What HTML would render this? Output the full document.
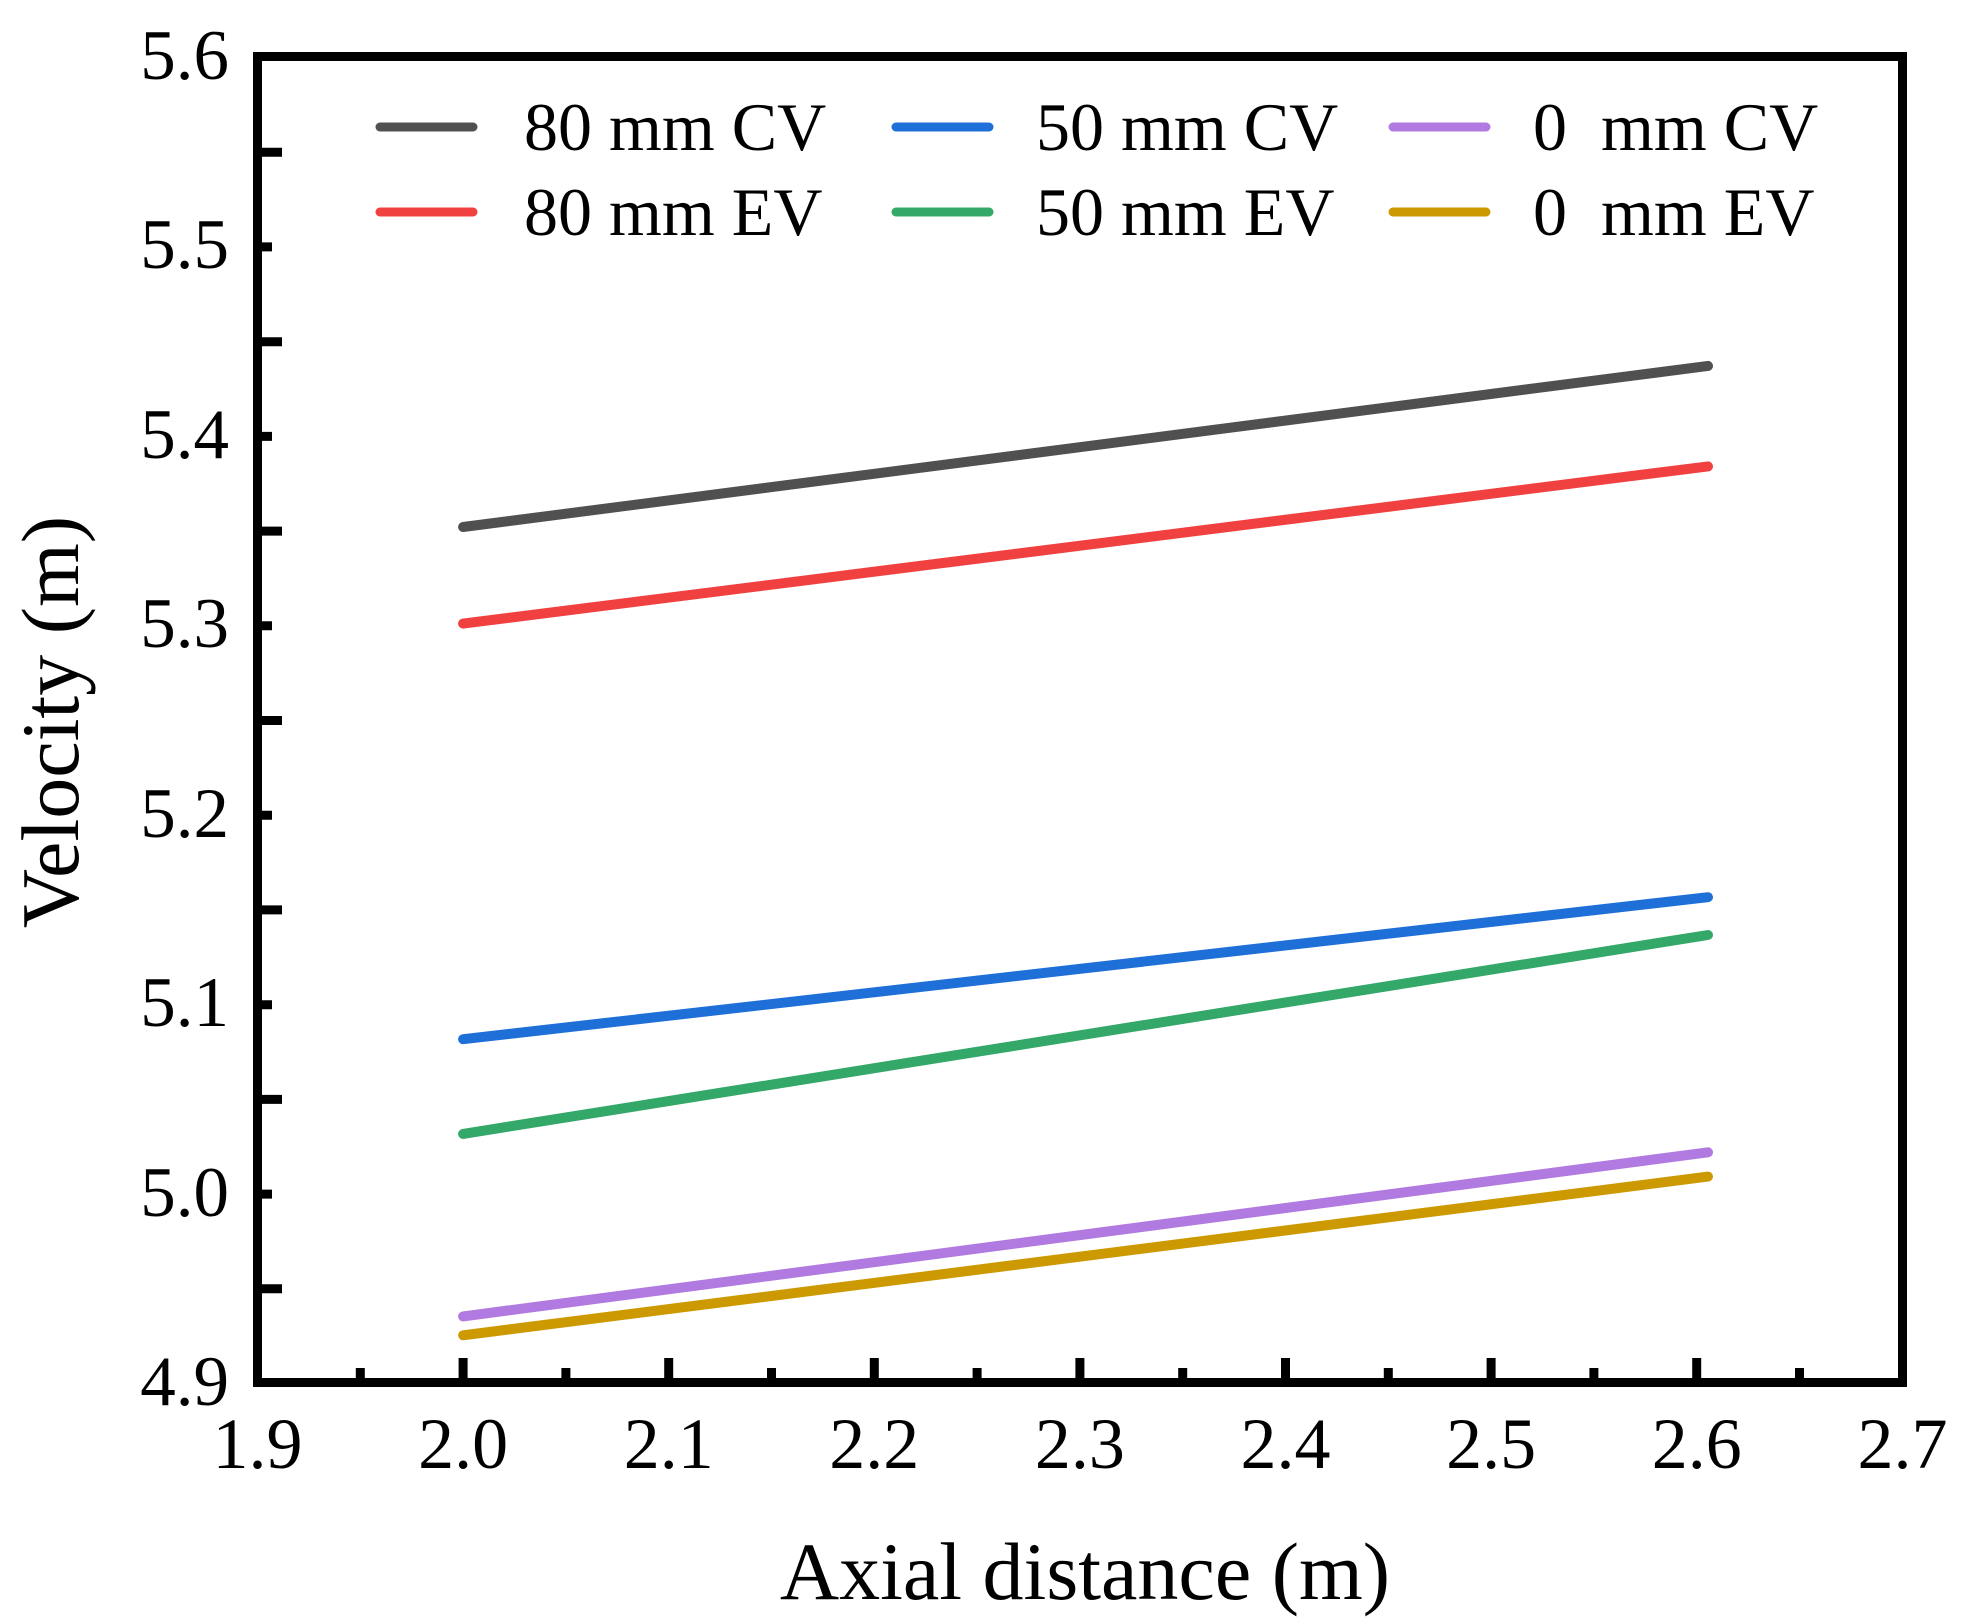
<!DOCTYPE html>
<html><head><style>html,body{margin:0;padding:0;background:#fff}svg{display:block}</style></head>
<body>
<svg xmlns="http://www.w3.org/2000/svg" width="1976" height="1624" viewBox="0 0 1976 1624" font-family="Liberation Serif, serif">
<rect width="1976" height="1624" fill="#fff"/>
<g stroke-linecap="round" stroke-width="10" fill="none">
<line x1="463.1" y1="527.0" x2="1708" y2="365.9" stroke="#505050"/>
<line x1="463.1" y1="623.6" x2="1708" y2="466.4" stroke="#f04040"/>
<line x1="463.1" y1="1039.2" x2="1708" y2="897.2" stroke="#1f6fd8"/>
<line x1="463.1" y1="1133.9" x2="1708" y2="935.0" stroke="#33a868"/>
<line x1="463.1" y1="1316.4" x2="1708" y2="1152.3" stroke="#b07ae0"/>
<line x1="463.1" y1="1335.3" x2="1708" y2="1176.6" stroke="#cc9900"/>
</g>
<g stroke="#000" stroke-width="9">
<rect x="257.5" y="56.5" width="1645" height="1326" fill="none"/>
<path d="M262 1288.8h20M262 1194.1h10M262 1099.4h20M262 1004.7h10M262 909.9h20M262 815.2h10M262 720.5h20M262 625.8h10M262 531.1h20M262 436.4h10M262 341.7h20M262 246.9h10M262 152.2h20"/>
<path d="M360.3 1378v-10M463.1 1378v-20M565.9 1378v-10M668.7 1378v-20M771.5 1378v-10M874.3 1378v-20M977.1 1378v-10M1079.9 1378v-20M1182.7 1378v-10M1285.5 1378v-20M1388.3 1378v-10M1491.1 1378v-20M1593.9 1378v-10M1696.7 1378v-20M1799.5 1378v-10"/>
</g>
<g font-size="71" text-anchor="end">
<text x="229" y="79">5.6</text>
<text x="229" y="268">5.5</text>
<text x="229" y="458">5.4</text>
<text x="229" y="647">5.3</text>
<text x="229" y="837">5.2</text>
<text x="229" y="1026">5.1</text>
<text x="229" y="1216">5.0</text>
<text x="229" y="1405">4.9</text>
</g>
<g font-size="72" text-anchor="middle">
<text x="257.5" y="1468">1.9</text>
<text x="463.1" y="1468">2.0</text>
<text x="668.7" y="1468">2.1</text>
<text x="874.3" y="1468">2.2</text>
<text x="1079.9" y="1468">2.3</text>
<text x="1285.5" y="1468">2.4</text>
<text x="1491.1" y="1468">2.5</text>
<text x="1696.7" y="1468">2.6</text>
<text x="1902.5" y="1468">2.7</text>
</g>
<text x="1085" y="1599" font-size="82" text-anchor="middle">Axial distance (m)</text>
<text transform="translate(78,722) rotate(-90)" font-size="82" text-anchor="middle">Velocity (m)</text>
<g stroke-linecap="round" stroke-width="9">
<line x1="380" y1="127" x2="473" y2="127" stroke="#505050"/>
<line x1="380" y1="212" x2="473" y2="212" stroke="#f04040"/>
<line x1="896" y1="127" x2="989" y2="127" stroke="#1f6fd8"/>
<line x1="896" y1="212" x2="989" y2="212" stroke="#33a868"/>
<line x1="1393" y1="127" x2="1486" y2="127" stroke="#b07ae0"/>
<line x1="1393" y1="212" x2="1486" y2="212" stroke="#cc9900"/>
</g>
<g font-size="68">
<text x="524" y="150">80 mm CV</text>
<text x="524" y="235">80 mm EV</text>
<text x="1036" y="150">50 mm CV</text>
<text x="1036" y="235">50 mm EV</text>
<text x="1533" y="150">0&#160; mm CV</text>
<text x="1533" y="235">0&#160; mm EV</text>
</g>
</svg>
</body></html>
